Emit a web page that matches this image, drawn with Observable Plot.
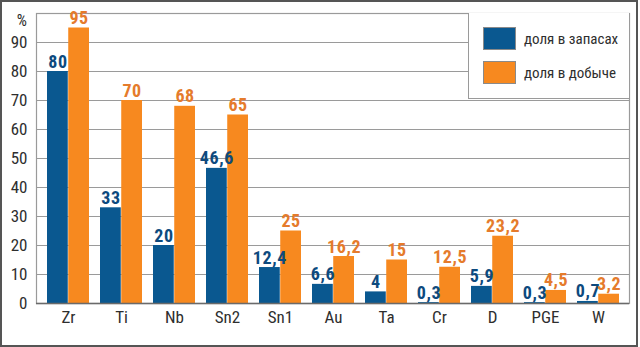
<!DOCTYPE html>
<html>
<head>
<meta charset="utf-8">
<script src="https://cdn.jsdelivr.net/npm/d3@7"></script>
<script src="https://cdn.jsdelivr.net/npm/@observablehq/plot@0.6"></script>
<style>
  html, body { margin: 0; padding: 0; background: #fff; }
  #wrap { position: relative; width: 640px; height: 347px; background: #fff; overflow: hidden; }
  #frame { position: absolute; left: 0; top: 0; width: 638px; height: 347px; box-sizing: border-box; border: 2px solid #555; pointer-events: none; }
  #legend { position: absolute; left: 468px; top: 13px; width: 161px; height: 86px; box-sizing: border-box;
    background: #fff; border-left: 1.5px solid #9a9a9a; border-bottom: 1.5px solid #9a9a9a;
    font-family: "Roboto Condensed", Roboto, sans-serif; font-stretch: condensed; font-size: 15px; color: #2e2e2e; }
  .item { position: absolute; left: 14px; display: flex; align-items: center; white-space: nowrap; }
  .sw { width: 33px; height: 23px; box-sizing: border-box; border: 1px solid #8a8a8a; margin-right: 8px; }
  svg { font-family: "Roboto Condensed", Roboto, sans-serif; font-stretch: condensed; }
  svg g[aria-label="text"] text { letter-spacing: 0.6px; }
</style>
</head>
<body>
<div id="wrap"><div id="chart"></div>
  <div id="legend"></div>
  <div id="frame"></div>
</div>
<script>
const categories = ["Zr","Ti","Nb","Sn2","Sn1","Au","Ta","Cr","D","PGE","W"];
const reserves   = [80, 33, 20, 46.6, 12.4, 6.6, 4, 0.3, 5.9, 0.3, 0.7];
const production = [95, 70, 68, 65, 25, 16.2, 15, 12.5, 23.2, 4.5, 3.2];
const seriesNames = ["доля в запасах", "доля в добыче"];
const seriesColors = ["#0a5890", "#f7891f"];
const labelColors = ["#0d4a7e", "#e57b2c"];
const yTicks = [0,10,20,30,40,50,60,70,80,90];

const W = 640, H = 347, mL = 36, mR = 11, mT = 13, mB = 44;
const padIn = 0.21, padOut = 0.12;
const step = (W - mL - mR) / (categories.length - padIn + 2 * padOut);
const half = step * (1 - padIn) / 2;

const fmt = v => String(v).replace(".", ",");
const resData = categories.map((c, i) => ({cat: c, value: reserves[i]}));
const prodData = categories.map((c, i) => ({cat: c, value: production[i]}));

const labelFont = {fontSize: 18, fontWeight: "bold", textAnchor: "middle", lineAnchor: "bottom"};

const chart = Plot.plot({
  width: W, height: H,
  marginLeft: mL, marginRight: mR, marginTop: mT, marginBottom: mB,
  style: {fontSize: "16px", color: "#2e2e2e", background: "transparent"},
  x: {domain: categories, paddingInner: padIn, paddingOuter: padOut, label: null},
  y: {domain: [0, 100], label: null},
  marks: [
    Plot.ruleY(yTicks.slice(1), {stroke: "#9a9a9a", strokeWidth: 1.2}),
    Plot.frame({stroke: "#9a9a9a", strokeWidth: 1.2}),
    Plot.barY(resData, {x: "cat", y: "value", fill: seriesColors[0], insetRight: half}),
    Plot.barY(prodData, {x: "cat", y: "value", fill: seriesColors[1], insetLeft: half}),
    Plot.ruleY([0], {stroke: "#6a6a6a", strokeWidth: 1.6}),
    Plot.text(resData, {x: "cat", y: "value", text: d => fmt(d.value), dx: -half / 2, dy: -4, fill: labelColors[0], ...labelFont}),
    Plot.text(prodData, {x: "cat", y: "value", text: d => fmt(d.value), dx: half / 2, dy: -4, fill: labelColors[1], ...labelFont}),
    Plot.axisY(yTicks, {tickSize: 0, tickPadding: 9, fontSize: 17, fill: "#2e2e2e"}),
    Plot.text(["%"], {frameAnchor: "top-left", text: d => d, dx: -9, dy: 1, textAnchor: "end", fontSize: 16, fill: "#2e2e2e"}),
    Plot.axisX({tickSize: 0, tickPadding: 7, fontSize: 17, fill: "#2e2e2e"})
  ]
});
document.getElementById("chart").appendChild(chart);

const legend = document.getElementById("legend");
seriesNames.forEach((name, i) => {
  const item = document.createElement("div");
  item.className = "item";
  item.style.top = (14 + i * 34) + "px";
  const sw = document.createElement("div");
  sw.className = "sw";
  sw.style.background = seriesColors[i];
  const t = document.createElement("span");
  t.textContent = name;
  item.appendChild(sw); item.appendChild(t);
  legend.appendChild(item);
});
</script>
</body>
</html>
